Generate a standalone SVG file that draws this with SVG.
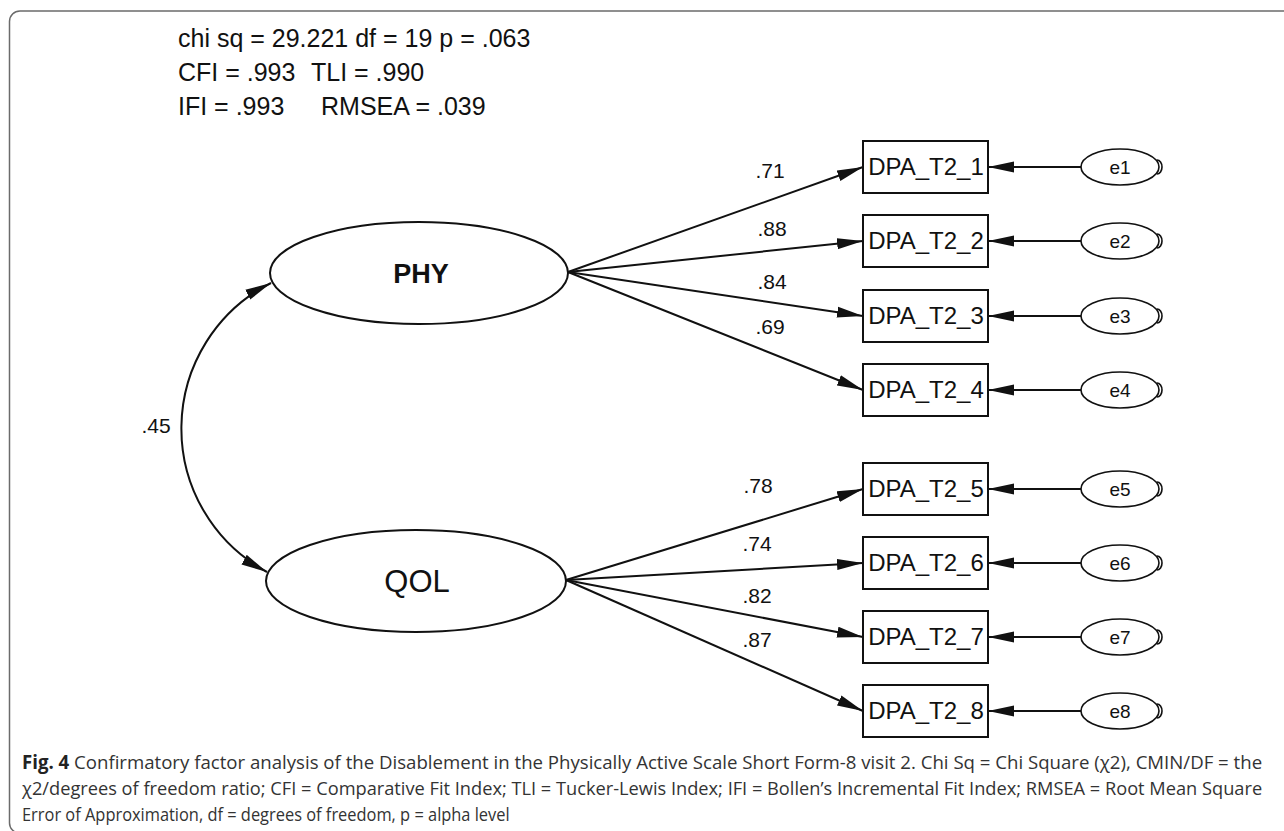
<svg xmlns="http://www.w3.org/2000/svg" width="1284" height="831" viewBox="0 0 1284 831">
<defs>
<style>
.t{font-family:"Liberation Sans",Arial,sans-serif;fill:#111}
.hdr{font-size:25px}
.lbl{font-size:21px;text-anchor:middle}
.box rect{fill:#fff;stroke:#111;stroke-width:2}
.box text{font-size:24px;text-anchor:middle}
.err ellipse{fill:#fff;stroke:#111;stroke-width:1.6}
.err path{fill:none;stroke:#111;stroke-width:1.6}
.err text{font-size:19px;text-anchor:middle}
.lat ellipse{fill:#fff;stroke:#111;stroke-width:2}
.lat text{text-anchor:middle}
.con line,.con path{stroke:#111;stroke-width:2;fill:none}
.cap{font-family:"Open Sans","Noto Sans",sans-serif;font-size:19px;fill:#333}
</style>
<marker id="ah" markerUnits="userSpaceOnUse" markerWidth="28" markerHeight="12" refX="26" refY="6" orient="auto-start-reverse" viewBox="0 0 28 12">
<path d="M0,0.5 L26,6 L0,11.5 z" fill="#111"/>
</marker>
</defs>
<rect width="1284" height="831" fill="#fff"/>
<path d="M1290,11 H20 A10.5,10.5 0 0 0 9.5,21.5 V823 A10,10 0 0 0 19.5,833" fill="none" stroke="#6b6b6b" stroke-width="1.5"/>

<g id="fit-stats" class="t hdr">
<text x="178" y="47">chi sq = 29.221 df = 19 p = .063</text>
<text x="178" y="81">CFI = .993</text>
<text x="311" y="81">TLI = .990</text>
<text x="178" y="115">IFI = .993</text>
<text x="321" y="115">RMSEA = .039</text>
</g>

<g id="connectors" class="con">
<path d="M271,283 A163,163 0 0 0 267,572" marker-start="url(#ah)" marker-end="url(#ah)"/>
<line x1="568" y1="272" x2="863" y2="167" marker-end="url(#ah)"/>
<line x1="568" y1="272" x2="863" y2="241" marker-end="url(#ah)"/>
<line x1="568" y1="272" x2="863" y2="316" marker-end="url(#ah)"/>
<line x1="568" y1="272" x2="863" y2="390" marker-end="url(#ah)"/>
<line x1="566" y1="580" x2="863" y2="489" marker-end="url(#ah)"/>
<line x1="566" y1="580" x2="863" y2="563" marker-end="url(#ah)"/>
<line x1="566" y1="580" x2="863" y2="637" marker-end="url(#ah)"/>
<line x1="566" y1="580" x2="863" y2="711" marker-end="url(#ah)"/>
<line x1="1081" y1="167" x2="988" y2="167" marker-end="url(#ah)"/>
<line x1="1081" y1="241" x2="988" y2="241" marker-end="url(#ah)"/>
<line x1="1081" y1="316" x2="988" y2="316" marker-end="url(#ah)"/>
<line x1="1081" y1="390" x2="988" y2="390" marker-end="url(#ah)"/>
<line x1="1081" y1="489" x2="988" y2="489" marker-end="url(#ah)"/>
<line x1="1081" y1="563" x2="988" y2="563" marker-end="url(#ah)"/>
<line x1="1081" y1="637" x2="988" y2="637" marker-end="url(#ah)"/>
<line x1="1081" y1="711" x2="988" y2="711" marker-end="url(#ah)"/>
</g>

<g id="connector-labels" class="t lbl">
<text x="156" y="433">.45</text>
<text x="770" y="178">.71</text>
<text x="772" y="236">.88</text>
<text x="772" y="289">.84</text>
<text x="770" y="334">.69</text>
<text x="758" y="493">.78</text>
<text x="757" y="551">.74</text>
<text x="757" y="603">.82</text>
<text x="757" y="647">.87</text>
</g>

<g id="PHY" class="lat t"><ellipse cx="419" cy="273" rx="149" ry="51"/><text x="421" y="283" font-size="27" font-weight="bold">PHY</text></g>
<g id="QOL" class="lat t"><ellipse cx="416" cy="581" rx="150" ry="51"/><text x="417" y="592" font-size="31">QOL</text></g>

<g id="DPA_T2_1" class="box t"><rect x="863" y="141" width="125" height="52"/><text x="926" y="175">DPA_T2_1</text></g>
<g id="DPA_T2_2" class="box t"><rect x="863" y="215" width="125" height="52"/><text x="926" y="249">DPA_T2_2</text></g>
<g id="DPA_T2_3" class="box t"><rect x="863" y="290" width="125" height="52"/><text x="926" y="324">DPA_T2_3</text></g>
<g id="DPA_T2_4" class="box t"><rect x="863" y="364" width="125" height="52"/><text x="926" y="398">DPA_T2_4</text></g>
<g id="DPA_T2_5" class="box t"><rect x="863" y="463" width="125" height="52"/><text x="926" y="497">DPA_T2_5</text></g>
<g id="DPA_T2_6" class="box t"><rect x="863" y="537" width="125" height="52"/><text x="926" y="571">DPA_T2_6</text></g>
<g id="DPA_T2_7" class="box t"><rect x="863" y="611" width="125" height="52"/><text x="926" y="645">DPA_T2_7</text></g>
<g id="DPA_T2_8" class="box t"><rect x="863" y="685" width="125" height="52"/><text x="926" y="719">DPA_T2_8</text></g>

<g id="e1" class="err t"><ellipse cx="1120" cy="167" rx="39" ry="18"/><path d="M1157,160 A5,7 0 0 1 1157,174"/><text x="1120" y="174">e1</text></g>
<g id="e2" class="err t"><ellipse cx="1120" cy="241" rx="39" ry="18"/><path d="M1157,234 A5,7 0 0 1 1157,248"/><text x="1120" y="248">e2</text></g>
<g id="e3" class="err t"><ellipse cx="1120" cy="316" rx="39" ry="18"/><path d="M1157,309 A5,7 0 0 1 1157,323"/><text x="1120" y="323">e3</text></g>
<g id="e4" class="err t"><ellipse cx="1120" cy="390" rx="39" ry="18"/><path d="M1157,383 A5,7 0 0 1 1157,397"/><text x="1120" y="397">e4</text></g>
<g id="e5" class="err t"><ellipse cx="1120" cy="489" rx="39" ry="18"/><path d="M1157,482 A5,7 0 0 1 1157,496"/><text x="1120" y="496">e5</text></g>
<g id="e6" class="err t"><ellipse cx="1120" cy="563" rx="39" ry="18"/><path d="M1157,556 A5,7 0 0 1 1157,570"/><text x="1120" y="570">e6</text></g>
<g id="e7" class="err t"><ellipse cx="1120" cy="637" rx="39" ry="18"/><path d="M1157,630 A5,7 0 0 1 1157,644"/><text x="1120" y="644">e7</text></g>
<g id="e8" class="err t"><ellipse cx="1120" cy="711" rx="39" ry="18"/><path d="M1157,704 A5,7 0 0 1 1157,718"/><text x="1120" y="718">e8</text></g>

<g id="caption" class="cap" transform="translate(22,0) scale(0.86,1)">
<text x="0" y="769" textLength="1442" lengthAdjust="spacingAndGlyphs"><tspan font-weight="bold" fill="#222">Fig. 4</tspan>  Confirmatory factor analysis of the Disablement in the Physically Active Scale Short Form-8 visit 2. Chi Sq = Chi Square (χ2), CMIN/DF = the</text>
<text x="0" y="795" textLength="1442" lengthAdjust="spacingAndGlyphs">χ2/degrees of freedom ratio; CFI = Comparative Fit Index; TLI = Tucker-Lewis Index; IFI = Bollen’s Incremental Fit Index; RMSEA = Root Mean Square</text>
<text x="0" y="821" textLength="567" lengthAdjust="spacingAndGlyphs">Error of Approximation, df = degrees of freedom, p = alpha level</text>
</g>
</svg>
